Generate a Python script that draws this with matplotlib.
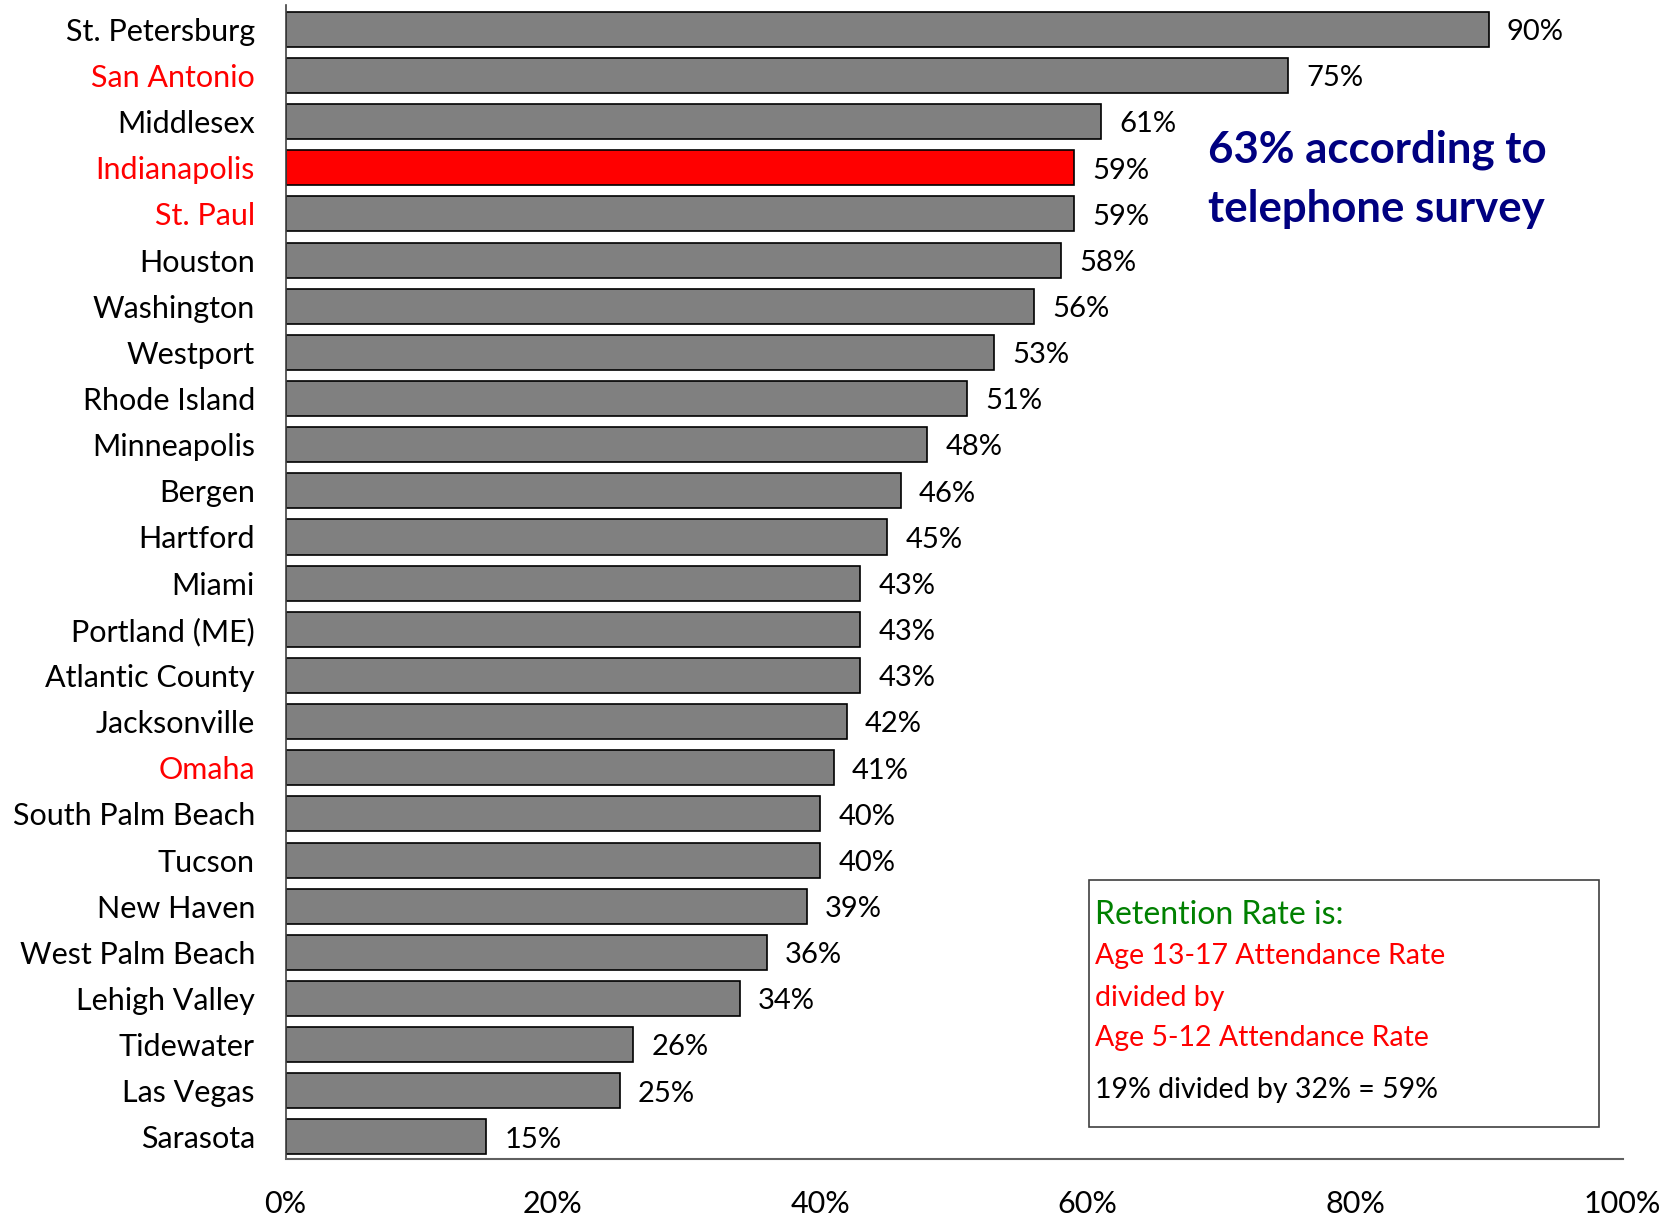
import matplotlib.pyplot as plt
from matplotlib.patches import Rectangle

plt.rcParams['font.family'] = ['Lato', 'DejaVu Sans']

# data, top to bottom
cities = ["St. Petersburg", "San Antonio", "Middlesex", "Indianapolis", "St. Paul",
          "Houston", "Washington", "Westport", "Rhode Island", "Minneapolis",
          "Bergen", "Hartford", "Miami", "Portland (ME)", "Atlantic County",
          "Jacksonville", "Omaha", "South Palm Beach", "Tucson", "New Haven",
          "West Palm Beach", "Lehigh Valley", "Tidewater", "Las Vegas", "Sarasota"]
values = [90, 75, 61, 59, 59, 58, 56, 53, 51, 48, 46, 45, 43, 43, 43, 42, 41,
          40, 40, 39, 36, 34, 26, 25, 15]
red_labels = ["San Antonio", "Indianapolis", "St. Paul", "Omaha"]
highlight = "Indianapolis"
xticks = [0, 20, 40, 60, 80, 100]

fig = plt.figure(figsize=(16.64, 12.15), dpi=100)
ax = fig.add_axes([0.1716, 0.046, 0.8035, 0.95])

y = list(range(len(cities)))
colors = ['#ff0000' if c == highlight else '#808080' for c in cities]
ax.barh(y, values, height=0.76, color=colors, edgecolor='black', linewidth=1.2)

for yi, v in zip(y, values):
    ax.annotate(f"{v}%", (v, yi), xytext=(13, -2), textcoords='offset points',
                ha='left', va='center', fontsize=21)

ax.set_xlim(0, 100)
ax.set_ylim(len(cities) - 0.52, -0.53)
ax.set_yticks(y)
ax.set_yticklabels(cities, fontsize=22)
for lbl in ax.get_yticklabels():
    if lbl.get_text() in red_labels:
        lbl.set_color('#ff0000')
ax.set_xticks(xticks)
ax.set_xticklabels([f"{t}%" for t in xticks], fontsize=22)
ax.tick_params(axis='both', length=0)
ax.tick_params(axis='y', pad=22)
ax.tick_params(axis='x', pad=22)

ax.spines['top'].set_visible(False)
ax.spines['right'].set_visible(False)
ax.spines['left'].set_color('#404040')
ax.spines['bottom'].set_color('#606060')
ax.spines['left'].set_linewidth(1.2)
ax.spines['bottom'].set_linewidth(1.5)

fig.text(1208 / 1664, 1 - 150 / 1215, "63% according to", color='#000080',
         fontsize=31.5, fontweight='bold', va='center', ha='left')
fig.text(1208 / 1664, 1 - 209 / 1215, "telephone survey", color='#000080',
         fontsize=31.5, fontweight='bold', va='center', ha='left')

box = Rectangle((1089 / 1664, 1 - 1127 / 1215), 510 / 1664, 247 / 1215,
                transform=fig.transFigure, facecolor='white', edgecolor='#404040',
                linewidth=1.2)
fig.patches.append(box)
tx = 1095 / 1664
fig.text(tx, 1 - 915 / 1215, "Retention Rate is:", color='#008000', fontsize=23, va='center')
fig.text(tx, 1 - 956 / 1215, "Age 13-17 Attendance Rate", color='#ff0000', fontsize=20.5, va='center')
fig.text(tx, 1 - 998 / 1215, "divided by", color='#ff0000', fontsize=20.5, va='center')
fig.text(tx, 1 - 1038 / 1215, "Age 5-12 Attendance Rate", color='#ff0000', fontsize=20.5, va='center')
fig.text(tx, 1 - 1090 / 1215, "19% divided by 32% = 59%", color='black', fontsize=20.5, va='center')

fig.savefig("out.png", dpi=100)
